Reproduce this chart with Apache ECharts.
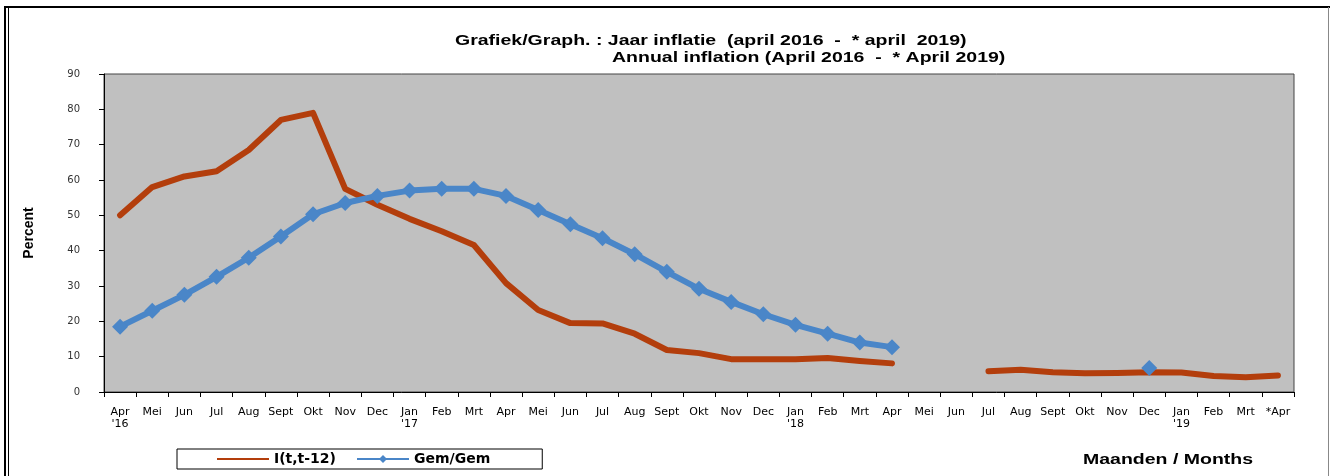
<!DOCTYPE html>
<html>
<head>
<meta charset="utf-8">
<script src="https://cdn.jsdelivr.net/npm/echarts@6/dist/echarts.min.js"></script>
<style>
  html, body { margin: 0; padding: 0; background: #fff; }
  #chart { width: 1330px; height: 476px; }
</style>
</head>
<body>
<div id="chart"></div>
<script>
// maanden april 2016 - april 2019
const months = [
  "Apr\n'16", 'Mei', 'Jun', 'Jul', 'Aug', 'Sept', 'Okt', 'Nov', 'Dec',
  "Jan\n'17", 'Feb', 'Mrt', 'Apr', 'Mei', 'Jun', 'Jul', 'Aug', 'Sept', 'Okt', 'Nov', 'Dec',
  "Jan\n'18", 'Feb', 'Mrt', 'Apr', 'Mei', 'Jun', 'Jul', 'Aug', 'Sept', 'Okt', 'Nov', 'Dec',
  "Jan\n'19", 'Feb', 'Mrt', '*Apr'
];

// I(t,t-12)
const jaarInflatie = [
  50, 58, 61, 62.5, 68.5, 77, 79, 57.5, 53,
  49, 45.5, 41.6, 30.8, 23.2, 19.5, 19.4, 16.5, 11.9, 11, 9.3, 9.3,
  9.3, 9.6, 8.8, 8.1, null, null, 5.9, 6.3, 5.6, 5.3, 5.4, 5.6,
  5.5, 4.5, 4.2, 4.7
];

// Gem/Gem
const gemGem = [
  18.5, 23, 27.5, 32.6, 38, 44, 50.3, 53.5, 55.5,
  57, 57.5, 57.5, 55.5, 51.5, 47.5, 43.5, 39, 34, 29.2, 25.5, 22,
  19, 16.5, 14, 12.7, null, null, null, null, null, null, null, 6.8,
  null, null, null, null
];

const yTicks = [0, 10, 20, 30, 40, 50, 60, 70, 80, 90];

const titleLine1 = 'Grafiek/Graph. : Jaar inflatie  (april 2016  -  * april  2019)';
const titleLine2 = 'Annual inflation (April 2016  -  * April 2019)';

const chart = echarts.init(document.getElementById('chart'));

const option = {
  animation: false,
  backgroundColor: '#ffffff',
  legend: {
    left: 177, top: 449,
    padding: [3, 52, 3, 40],
    borderColor: '#000', borderWidth: 1,
    itemWidth: 52, itemHeight: 10, itemGap: 20,
    textStyle: { fontFamily: 'DejaVu Sans, Arial', fontSize: 14, fontWeight: 'bold', color: '#000' },
    data: [
      { name: 'I(t,t-12)', icon: 'path://M0,4 L52,4 L52,6 L0,6 Z' },
      { name: 'Gem/Gem' }
    ]
  },
  grid: {
    left: 104, right: 36, top: 74, bottom: 84,
    show: true, backgroundColor: '#c0c0c0', borderColor: '#444', borderWidth: 1
  },
  xAxis: {
    type: 'category',
    data: months,
    boundaryGap: true,
    axisLine: { lineStyle: { color: '#000', width: 1 } },
    axisTick: { show: true, length: 5, lineStyle: { color: '#000' } },
    axisLabel: {
      fontFamily: 'DejaVu Sans, Arial', fontSize: 11, color: '#000',
      interval: 0, margin: 14, lineHeight: 12
    },
    splitLine: { show: false }
  },
  yAxis: {
    type: 'value',
    min: 0, max: 90, interval: 10,
    name: 'Percent',
    nameLocation: 'middle',
    nameRotate: 90,
    nameGap: 68,
    nameTextStyle: { fontFamily: 'Liberation Sans Narrow, Liberation Sans, Arial', fontSize: 14, fontWeight: 'bold', color: '#000' },
    axisLine: { show: true, lineStyle: { color: '#000', width: 1 } },
    axisTick: { show: true, length: 5, lineStyle: { color: '#000' } },
    axisLabel: {
      fontFamily: 'DejaVu Sans, Arial', fontSize: 10, color: '#333', margin: 24,
      formatter: v => (yTicks.includes(v) ? String(v) : '')
    },
    splitLine: { show: false }
  },
  series: [
    {
      name: 'I(t,t-12)',
      type: 'line',
      data: jaarInflatie,
      symbol: 'none',
      connectNulls: false,
      lineStyle: { color: '#b33e0c', width: 6, cap: 'round', join: 'round' },
      itemStyle: { color: '#b33e0c' },
      z: 2
    },
    {
      name: 'Gem/Gem',
      type: 'line',
      data: gemGem,
      symbol: 'diamond',
      symbolSize: 16,
      showAllSymbol: true,
      connectNulls: false,
      lineStyle: { color: '#4a86c8', width: 6, join: 'round' },
      itemStyle: { color: '#4a86c8' },
      z: 3
    }
  ],
  graphic: [
    { type: 'line', shape: { x1: 4, y1: 7, x2: 1330, y2: 7 }, style: { stroke: '#000', lineWidth: 2 } },
    { type: 'line', shape: { x1: 5, y1: 7, x2: 5, y2: 476 }, style: { stroke: '#000', lineWidth: 2 } },
    { type: 'line', shape: { x1: 8.5, y1: 7, x2: 8.5, y2: 476 }, style: { stroke: '#000', lineWidth: 1 } },
    { type: 'line', shape: { x1: 1328.5, y1: 7, x2: 1328.5, y2: 476 }, style: { stroke: '#888', lineWidth: 1 } },
    {
      type: 'text', x: 455, y: 33, scaleX: 1.3,
      style: { text: titleLine1, font: 'bold 15px "Liberation Sans", Arial', fill: '#000' }
    },
    {
      type: 'text', x: 612, y: 50, scaleX: 1.3,
      style: { text: titleLine2, font: 'bold 15px "Liberation Sans", Arial', fill: '#000' }
    },
    {
      type: 'text', x: 1083, y: 452, scaleX: 1.3,
      style: { text: 'Maanden / Months', font: 'bold 15px "Liberation Sans", Arial', fill: '#000' }
    }
  ]
};

chart.setOption(option);
</script>
</body>
</html>
